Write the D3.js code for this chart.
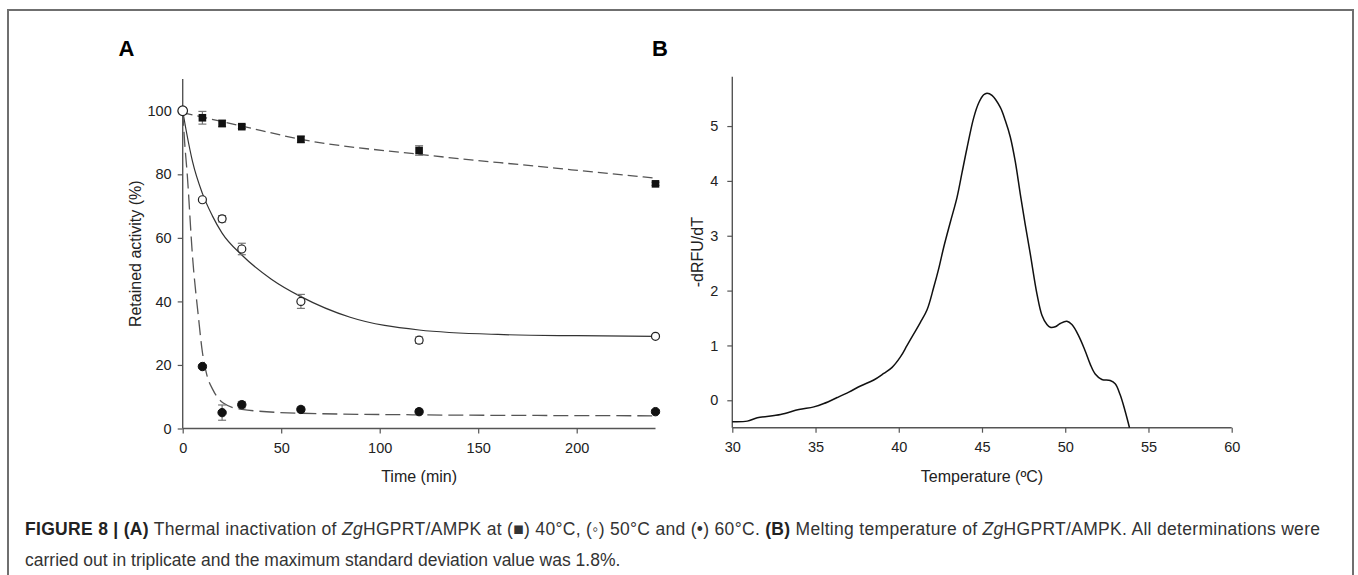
<!DOCTYPE html>
<html>
<head>
<meta charset="utf-8">
<script src="https://cdn.jsdelivr.net/npm/d3@7"></script>
<style>
  body { margin: 0; background: #fff; }
  text { font-family: "Liberation Sans", Arial, sans-serif; }
</style>
</head>
<body>
<div id="canvas"></div>
<script>
"use strict"
let svgWidth = 1358;
let svgHeight = 575;

// panel A: thermal inactivation
let timeMin = [0, 10, 20, 30, 60, 120, 240];
let act40 = [100, 97.8, 96, 95, 91, 87.5, 77];
let act50 = [100, 72, 66, 56.5, 40, 27.8, 29];
let act60 = [100, 19.5, 5, 7.5, 6, 5.3, 5.3];
let err40 = [0, 2, 1, 0.6, 1, 1.5, 0.5];
let err50 = [0, 0.5, 1, 1.8, 2.2, 1, 0.5];
let err60 = [0, 0.5, 2.4, 1, 0.8, 0.8, 0.5];

// fitted curves
let fit40Time = [0, 30, 60, 120, 180, 240];
let fit40 = [99.4, 95.2, 91, 86.3, 82.5, 78.8];
let fit50Time = [0, 2, 5, 10, 15, 20, 30, 45, 60, 85, 120, 160, 200, 240];
let fit50 = [100, 93, 84, 74, 67, 61.5, 54.6, 47, 41.5, 35, 31, 29.6, 29.2, 29];
let fit60Time = [0, 1, 2.3, 5, 8, 10, 12, 15.5, 20.6, 30, 60, 120, 180, 240];
let fit60 = [100, 90, 80, 54, 35, 24, 17.5, 12, 8, 6, 4.8, 4.3, 4.1, 4];

let xTicksA = [0, 50, 100, 150, 200];
let yTicksA = [0, 20, 40, 60, 80, 100];

// panel B: melting curve
let tempC = [30, 30.9, 31.5, 32.9, 34, 34.9, 35.5, 36.3, 37, 37.7, 38.5, 39.1, 39.6, 40.1, 40.5,
  40.9, 41.3, 41.7, 42.1, 42.4, 42.7, 43.1, 43.5, 43.8, 44.1, 44.5, 44.8, 45.1, 45.3, 45.6,
  46.1, 46.4, 46.7, 47, 47.3, 47.6, 47.9, 48.3, 48.6, 48.9, 49.1, 49.4, 49.7, 50.1, 50.4,
  50.8, 51.2, 51.5, 51.8, 52.2, 52.7, 53, 53.3, 53.6, 53.86];
let dRFU = [-0.39, -0.38, -0.32, -0.26, -0.17, -0.12, -0.06, 0.05, 0.15, 0.26, 0.37, 0.49, 0.6, 0.79, 1.0,
  1.21, 1.42, 1.65, 2.06, 2.4, 2.79, 3.25, 3.7, 4.15, 4.6, 5.15, 5.42, 5.57, 5.6, 5.56,
  5.34, 5.1, 4.8, 4.35, 3.76, 3.2, 2.67, 1.94, 1.55, 1.38, 1.33, 1.34, 1.4, 1.44, 1.38,
  1.18, 0.9, 0.66, 0.48, 0.38, 0.36, 0.3, 0.1, -0.2, -0.5];

let xTicksB = [30, 35, 40, 45, 50, 55, 60];
let yTicksB = [0, 1, 2, 3, 4, 5];

let svg = d3.select("#canvas")
    .append("svg")
    .attr("width", svgWidth)
    .attr("height", svgHeight);

svg.append("rect")
    .attr("x", 8)
    .attr("y", 10)
    .attr("width", 1345)
    .attr("height", 620)
    .attr("fill", "none")
    .attr("stroke", "#6f6f6f")
    .attr("stroke-width", 2);

let axisColor = "#555";

function styleAxis(ax) {
    ax.select(".domain").attr("stroke", axisColor).attr("stroke-width", 1.4);
    ax.selectAll(".tick line").attr("stroke", axisColor).attr("stroke-width", 1.2);
    ax.selectAll(".tick text").attr("fill", "#222").attr("font-size", 14.5)
        .attr("font-family", "Liberation Sans, Arial, sans-serif");
}

// ---------- panel A ----------
let xA = d3.scaleLinear().domain([0, 240]).range([182.7, 655.5]);
let yA = d3.scaleLinear().domain([0, 110]).range([428.5, 79]);

let gA = svg.append("g");

let xAxisA = gA.append("g")
    .attr("transform", "translate(0," + yA(0) + ")")
    .call(d3.axisBottom(xA).tickValues(xTicksA).tickSize(5).tickPadding(9));
let yAxisA = gA.append("g")
    .attr("transform", "translate(" + xA(0) + ",0)")
    .call(d3.axisLeft(yA).tickValues(yTicksA).tickSize(5).tickPadding(6));
styleAxis(xAxisA);
styleAxis(yAxisA);
// x axis ends exactly at 240
xAxisA.select(".domain").attr("d", "M" + xA(0) + ",0H" + xA(240));
yAxisA.select(".domain").attr("d", "M0," + yA(110) + "V" + yA(0));

let fitLine = d3.line().curve(d3.curveMonotoneX);

gA.append("path")
    .attr("d", fitLine(fit40Time.map(function(t, i) { return [xA(t), yA(fit40[i])]; })))
    .attr("fill", "none")
    .attr("stroke", "#555")
    .attr("stroke-width", 1.3)
    .attr("stroke-dasharray", "10,5");

gA.append("path")
    .attr("d", fitLine(fit50Time.map(function(t, i) { return [xA(t), yA(fit50[i])]; })))
    .attr("fill", "none")
    .attr("stroke", "#333")
    .attr("stroke-width", 1.2);

gA.append("path")
    .attr("d", fitLine(fit60Time.map(function(t, i) { return [xA(t), yA(fit60[i])]; })))
    .attr("fill", "none")
    .attr("stroke", "#555")
    .attr("stroke-width", 1.3)
    .attr("stroke-dasharray", "15,6");

function errorBars(values, errs) {
    for (let i = 0; i < timeMin.length; i++) {
        if (errs[i] <= 0) continue;
        let x = xA(timeMin[i]);
        let y1 = yA(values[i] + errs[i]);
        let y2 = yA(values[i] - errs[i]);
        let g = gA.append("g").attr("stroke", "#777").attr("stroke-width", 1.2);
        g.append("line").attr("x1", x).attr("x2", x).attr("y1", y1).attr("y2", y2);
        g.append("line").attr("x1", x - 4).attr("x2", x + 4).attr("y1", y1).attr("y2", y1);
        g.append("line").attr("x1", x - 4).attr("x2", x + 4).attr("y1", y2).attr("y2", y2);
    }
}
errorBars(act40, err40);
errorBars(act50, err50);
errorBars(act60, err60);

gA.selectAll("circle.filled")
    .data(timeMin)
    .join("circle")
    .attr("class", "filled")
    .attr("cx", function(d) { return xA(d); })
    .attr("cy", function(d, i) { return yA(act60[i]); })
    .attr("r", 4.2)
    .attr("fill", "#111")
    .attr("stroke", "#111");

gA.selectAll("rect.sq")
    .data(timeMin)
    .join("rect")
    .attr("class", "sq")
    .attr("x", function(d) { return xA(d) - 3.8; })
    .attr("y", function(d, i) { return yA(act40[i]) - 3.8; })
    .attr("width", 7.6)
    .attr("height", 7.6)
    .attr("fill", "#111");

gA.selectAll("circle.open")
    .data(timeMin)
    .join("circle")
    .attr("class", "open")
    .attr("cx", function(d) { return xA(d); })
    .attr("cy", function(d, i) { return yA(act50[i]); })
    .attr("r", function(d) { return d == 0 ? 4.8 : 4; })
    .attr("fill", "#fff")
    .attr("stroke", "#222")
    .attr("stroke-width", 1.2);

gA.append("text")
    .attr("x", (xA(0) + xA(240)) / 2)
    .attr("y", 482)
    .attr("text-anchor", "middle")
    .attr("font-size", 16)
    .attr("fill", "#222")
    .text("Time (min)");

gA.append("text")
    .attr("transform", "translate(141," + (yA(0) + yA(110)) / 2 + ") rotate(-90)")
    .attr("text-anchor", "middle")
    .attr("font-size", 16)
    .attr("fill", "#222")
    .text("Retained activity (%)");

svg.append("text")
    .attr("x", 126.5)
    .attr("y", 56)
    .attr("text-anchor", "middle")
    .attr("font-size", 22)
    .attr("font-weight", "bold")
    .text("A");

// ---------- panel B ----------
let xB = d3.scaleLinear().domain([30, 60]).range([732.3, 1231.7]);
let yB = d3.scaleLinear().domain([-0.5, 5.9]).range([427.7, 76.7]);

let gB = svg.append("g");

let xAxisB = gB.append("g")
    .attr("transform", "translate(0," + yB(-0.5) + ")")
    .call(d3.axisBottom(xB).tickValues(xTicksB).tickSize(5).tickPadding(9));
let yAxisB = gB.append("g")
    .attr("transform", "translate(" + xB(30) + ",0)")
    .call(d3.axisLeft(yB).tickValues(yTicksB).tickFormat(d3.format("d")).tickSize(5).tickPadding(9));
styleAxis(xAxisB);
styleAxis(yAxisB);
xAxisB.select(".domain").attr("d", "M" + xB(30) + ",0H" + xB(60));
yAxisB.select(".domain").attr("d", "M0," + yB(5.9) + "V" + yB(-0.5));

gB.append("path")
    .attr("d", d3.line().curve(d3.curveCatmullRom)(tempC.map(function(t, i) { return [xB(t), yB(dRFU[i])]; })))
    .attr("fill", "none")
    .attr("stroke", "#111")
    .attr("stroke-width", 1.5);

gB.append("text")
    .attr("x", (xB(30) + xB(60)) / 2)
    .attr("y", 482)
    .attr("text-anchor", "middle")
    .attr("font-size", 16)
    .attr("fill", "#222")
    .text("Temperature (ºC)");

gB.append("text")
    .attr("transform", "translate(703," + (yB(-0.5) + yB(5.9)) / 2 + ") rotate(-90)")
    .attr("text-anchor", "middle")
    .attr("font-size", 16)
    .attr("fill", "#222")
    .text("-dRFU/dT");

svg.append("text")
    .attr("x", 660)
    .attr("y", 56)
    .attr("text-anchor", "middle")
    .attr("font-size", 22)
    .attr("font-weight", "bold")
    .text("B");

// ---------- caption ----------
let cap1 = svg.append("text")
    .attr("x", 25)
    .attr("y", 535)
    .attr("font-size", 17.5)
    .attr("textLength", 1295)
    .attr("fill", "#333");
cap1.append("tspan").attr("font-weight", "bold").attr("fill", "#222").text("FIGURE 8 | (A)");
cap1.append("tspan").text(" Thermal inactivation of ");
cap1.append("tspan").attr("font-style", "italic").text("Zg");
cap1.append("tspan").text("HGPRT/AMPK at (\u25A0) 40\u00B0C, (\u25E6) 50\u00B0C and (\u2022) 60\u00B0C. ");
cap1.append("tspan").attr("font-weight", "bold").attr("fill", "#222").text("(B)");
cap1.append("tspan").text(" Melting temperature of ");
cap1.append("tspan").attr("font-style", "italic").text("Zg");
cap1.append("tspan").text("HGPRT/AMPK. All determinations were");

svg.append("text")
    .attr("x", 25)
    .attr("y", 566)
    .attr("font-size", 17.5)
    .attr("fill", "#333")
    .text("carried out in triplicate and the maximum standard deviation value was 1.8%.");
</script>
</body>
</html>
